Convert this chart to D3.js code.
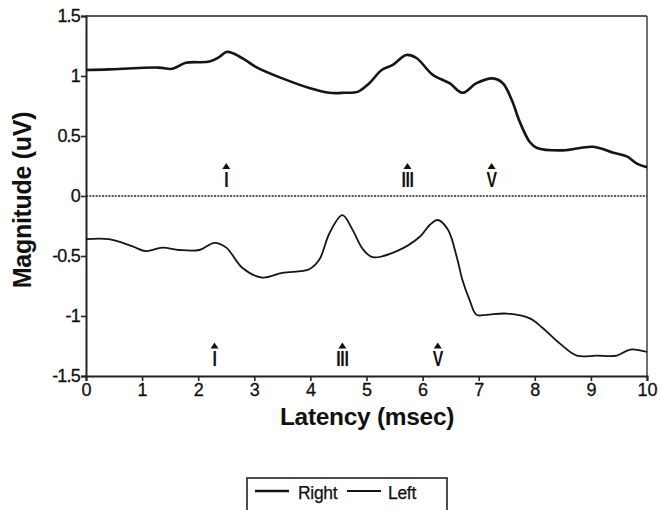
<!DOCTYPE html>
<html>
<head>
<meta charset="utf-8">
<script src="https://cdn.jsdelivr.net/npm/d3@7/dist/d3.min.js"></script>
<style>
  html, body { margin: 0; padding: 0; background: #fff; }
  svg { display: block; }
  text { font-family: "Liberation Sans", Arial, Helvetica, sans-serif; fill: #111; }
</style>
</head>
<body>
<svg id="chart" width="661" height="510"></svg>
<script>
// ---- data ----
const xTicks = [0, 1, 2, 3, 4, 5, 6, 7, 8, 9, 10];
const yTicks = [-1.5, -1, -0.5, 0, 0.5, 1, 1.5];
const yTickLabels = ["-1.5", "-1", "-0.5", "0", "0.5", "1", "1.5"];
const seriesNames = ["Right", "Left"];

// Right ear (upper trace): [latency ms, magnitude uV]
const rightData = [
  [0, 1.05], [0.4, 1.055], [0.95, 1.067], [1.3, 1.07], [1.54, 1.06], [1.78, 1.11],
  [2.2, 1.12], [2.38, 1.16], [2.5, 1.2], [2.62, 1.19], [2.85, 1.13], [3.05, 1.07],
  [3.5, 0.98], [3.98, 0.9], [4.34, 0.86], [4.6, 0.86], [4.85, 0.87], [5.05, 0.94],
  [5.27, 1.05], [5.46, 1.09], [5.71, 1.175], [5.89, 1.15], [6.18, 1.01], [6.48, 0.94],
  [6.71, 0.86], [6.96, 0.94], [7.25, 0.98], [7.43, 0.94], [7.59, 0.8], [7.73, 0.62],
  [7.91, 0.45], [8.04, 0.4], [8.5, 0.38], [9.04, 0.41], [9.4, 0.36], [9.64, 0.33],
  [9.82, 0.27], [10, 0.24]
];
// Left ear (lower trace)
const leftData = [
  [0, -0.36], [0.41, -0.36], [0.83, -0.42], [1.07, -0.46], [1.36, -0.43], [1.66, -0.45],
  [2.02, -0.45], [2.29, -0.39], [2.5, -0.43], [2.79, -0.6], [3.14, -0.68], [3.5, -0.64],
  [3.98, -0.61], [4.16, -0.53], [4.34, -0.31], [4.57, -0.16], [4.75, -0.28], [4.93, -0.44],
  [5.11, -0.51], [5.54, -0.46], [5.95, -0.34], [6.13, -0.24], [6.27, -0.2], [6.45, -0.28],
  [6.61, -0.51], [6.71, -0.7], [6.84, -0.87], [6.96, -0.99], [7.14, -0.99], [7.5, -0.98],
  [7.91, -1.02], [8.14, -1.1], [8.45, -1.23], [8.75, -1.33], [9.1, -1.33], [9.46, -1.33],
  [9.7, -1.28], [10, -1.3]
];
// Wave markers: [latency, magnitude at arrow tip, label]
const rightPeaks = [[2.5, 0.275, "I"], [5.73, 0.275, "III"], [7.23, 0.275, "V"]];
const leftPeaks = [[2.29, -1.22, "I"], [4.57, -1.22, "III"], [6.27, -1.22, "V"]];

// ---- layout ----
const svg = d3.select("#chart");
const pL = 86, pR = 647, pT = 16, pB = 376;
const x = d3.scaleLinear().domain([0, 10]).range([pL, pR]);
const y = d3.scaleLinear().domain([-1.5, 1.5]).range([pB, pT]);

// frame (top & right)
svg.append("line").attr("x1", pL).attr("x2", pR).attr("y1", pT).attr("y2", pT)
  .attr("stroke", "#222").attr("stroke-width", 1.6);
svg.append("line").attr("x1", pR).attr("x2", pR).attr("y1", pT).attr("y2", pB)
  .attr("stroke", "#333").attr("stroke-width", 1.4);

// zero dotted line
svg.append("line").attr("x1", pL).attr("x2", pR).attr("y1", y(0)).attr("y2", y(0))
  .attr("stroke", "#222").attr("stroke-width", 1.3).attr("stroke-dasharray", "2,1.2");

// axes
const yAxis = d3.axisLeft(y).tickValues(yTicks)
  .tickFormat((d, i) => yTickLabels[i]).tickSize(5).tickPadding(1);
const gy = svg.append("g").attr("transform", `translate(${pL},0)`).call(yAxis);
gy.select(".domain").attr("stroke", "#222").attr("stroke-width", 2);
gy.selectAll(".tick line").attr("stroke", "#222").attr("stroke-width", 1.6);
gy.selectAll(".tick text").style("font-size", "18px").style("letter-spacing", "-0.8px")
  .attr("fill", "#111").attr("stroke", "#111").attr("stroke-width", 0.3)
  .style("font-family", "'Liberation Sans', Arial, sans-serif");

const xAxis = d3.axisBottom(x).tickValues(xTicks).tickFormat(d3.format("d")).tickSize(5).tickPadding(2);
const gx = svg.append("g").attr("transform", `translate(0,${pB})`).call(xAxis);
gx.select(".domain").attr("stroke", "#222").attr("stroke-width", 2);
gx.selectAll(".tick line").attr("stroke", "#222").attr("stroke-width", 1.6);
gx.selectAll(".tick text").style("font-size", "18px").attr("fill", "#111")
  .attr("stroke", "#111").attr("stroke-width", 0.3)
  .style("font-family", "'Liberation Sans', Arial, sans-serif");

// axis titles
svg.append("text").attr("x", 367).attr("y", 425)
  .attr("text-anchor", "middle").style("font-size", "24.5px").style("font-weight", "bold")
  .style("letter-spacing", "-0.3px")
  .text("Latency (msec)");
svg.append("text").attr("transform", `translate(31,200) rotate(-90)`)
  .attr("text-anchor", "middle").style("font-size", "25px").style("font-weight", "bold")
  .style("letter-spacing", "-0.3px")
  .text("Magnitude (uV)");

// traces
const line = d3.line().x(d => x(d[0])).y(d => y(d[1])).curve(d3.curveCatmullRom.alpha(0.5));
svg.append("path").datum(rightData).attr("d", line).attr("fill", "none")
  .attr("stroke", "#151515").attr("stroke-width", 2.6).attr("stroke-linejoin", "round");
svg.append("path").datum(leftData).attr("d", line).attr("fill", "none")
  .attr("stroke", "#151515").attr("stroke-width", 1.8).attr("stroke-linejoin", "round");

// wave markers
function drawMarkers(arr) {
  const g = svg.append("g");
  arr.forEach(([lx, ly, lab]) => {
    const cx = x(lx), cy = y(ly);
    g.append("path")
      .attr("d", `M${cx},${cy} L${cx + 4},${cy + 6} L${cx - 4},${cy + 6} Z`)
      .attr("fill", "#111");
    g.append("text")
      .attr("transform", `translate(${cx},${cy + 24}) scale(0.72,1)`)
      .attr("text-anchor", "middle").style("font-size", "22px").style("font-weight", "bold")
      .style("letter-spacing", "-0.5px")
      .text(lab);
  });
}
drawMarkers(rightPeaks);
drawMarkers(leftPeaks);

// legend
const lg = svg.append("g");
lg.append("rect").attr("x", 247).attr("y", 478).attr("width", 200).attr("height", 40)
  .attr("fill", "none").attr("stroke", "#222").attr("stroke-width", 1.6);
const legendItems = [
  { name: seriesNames[0], w: 2.4, x0: 255, tx: 298 },
  { name: seriesNames[1], w: 1.9, x0: 347, tx: 388 }
];
legendItems.forEach(it => {
  lg.append("line").attr("x1", it.x0).attr("x2", it.x0 + 34).attr("y1", 491).attr("y2", 491)
    .attr("stroke", "#151515").attr("stroke-width", it.w);
  lg.append("text").attr("x", it.tx).attr("y", 499).style("font-size", "17.5px")
    .style("letter-spacing", "-0.3px").attr("stroke", "#111").attr("stroke-width", 0.25)
    .text(it.name);
});
</script>
</body>
</html>
